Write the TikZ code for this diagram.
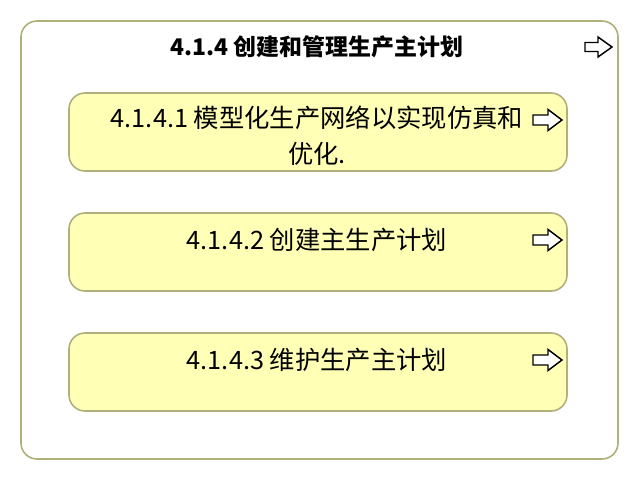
\documentclass[tikz,border=0pt]{standalone}
\usepackage{fontspec}
\setmainfont{Noto Sans CJK SC}
\definecolor{olive}{RGB}{176,176,122}
\definecolor{paleyellow}{RGB}{255,255,181}
\begin{document}
\begin{tikzpicture}[x=0.75pt,y=-0.75pt,
  outerbox/.style={draw=olive,line width=1.2pt,fill=white,rounded corners=12pt},
  childbox/.style={draw=olive,line width=1.2pt,fill=paleyellow,rounded corners=12pt},
  childtext/.style={font=\fontsize{19pt}{27pt}\selectfont,inner sep=0pt,align=center,anchor=north},
  titletext/.style={font=\fontsize{17.2pt}{20pt}\selectfont\bfseries,inner sep=0pt},
  arrowsym/.style={draw=black,line width=1.1pt,fill=white,line join=miter}]
\useasboundingbox (0,0) rectangle (640,480);
% outer container
\path[outerbox] (21,21) rectangle (618,459);
\node[titletext] (title) at (317,47) {4.1.4 创建和管理生产主计划};
\draw[arrowsym] (585,42.5) -- (598,42.5) -- (598,37) -- (612,47) -- (598,57) -- (598,51.5) -- (585,51.5) -- cycle;
% child 1
\path[childbox] (69,93) rectangle (567,171);
\begin{scope}
  \clip (69,93) rectangle (567,164);
  \node[childtext] (c1) at (317,106) {4.1.4.1 模型化生产网络以实现仿真和\\优化.};
\end{scope}
% child 2
\path[childbox] (69,213) rectangle (567,291);
\node[childtext,anchor=center] (c2) at (317,240) {4.1.4.2 创建主生产计划};
% child 3
\path[childbox] (69,333) rectangle (567,411);
\node[childtext,anchor=center] (c3) at (317,360) {4.1.4.3 维护生产主计划};
% arrows in children
\foreach \yy in {120,240,360}{
  \draw[arrowsym] (533,\yy-5) -- (548,\yy-5) -- (548,\yy-10.5) -- (562,\yy) -- (548,\yy+10.5) -- (548,\yy+5) -- (533,\yy+5) -- cycle;
}
\end{tikzpicture}
\end{document}
